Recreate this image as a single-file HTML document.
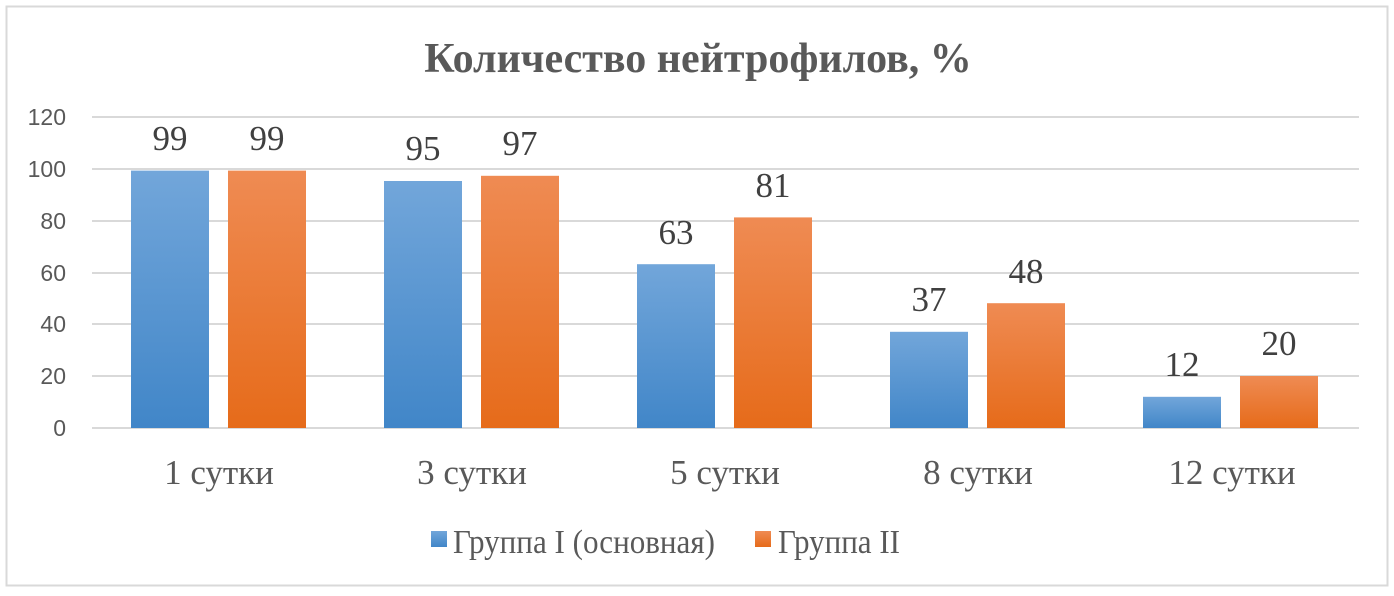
<!DOCTYPE html>
<html><head><meta charset="utf-8"><style>
body{margin:0;background:#fff;}
svg{display:block;}
</style></head><body>
<svg width="1394" height="596" xmlns="http://www.w3.org/2000/svg">
<defs>
<linearGradient id="b" x1="0" y1="0" x2="0" y2="1"><stop offset="0" stop-color="#72a6da"/><stop offset="1" stop-color="#4186c8"/></linearGradient>
<linearGradient id="o" x1="0" y1="0" x2="0" y2="1"><stop offset="0" stop-color="#ef8b53"/><stop offset="1" stop-color="#e66b1a"/></linearGradient>
</defs>
<rect x="6.5" y="6.5" width="1381" height="579" fill="#fff" stroke="#d9d9d9" stroke-width="2"/>
<text x="698" y="72" text-anchor="middle" font-family="Liberation Serif, serif" font-weight="bold" font-size="42" fill="#595959">Количество нейтрофилов, %</text>
<g stroke="#d9d9d9" stroke-width="2">
<line x1="92" x2="1359" y1="117" y2="117"/><line x1="92" x2="1359" y1="169" y2="169"/><line x1="92" x2="1359" y1="221" y2="221"/><line x1="92" x2="1359" y1="273" y2="273"/><line x1="92" x2="1359" y1="324" y2="324"/><line x1="92" x2="1359" y1="376" y2="376"/><line x1="92" x2="1359" y1="428" y2="428"/>
</g>
<g font-family="Liberation Sans, sans-serif" font-size="23" fill="#595959" text-anchor="end">
<text x="66" y="125">120</text><text x="66" y="177">100</text><text x="66" y="229">80</text><text x="66" y="281">60</text><text x="66" y="332">40</text><text x="66" y="384">20</text><text x="66" y="436">0</text>
</g>
<g font-family="Liberation Serif, serif" font-size="35" fill="#404040" text-anchor="middle">
<rect x="131" y="170.6" width="78" height="257.4" fill="url(#b)"/><rect x="228" y="170.6" width="78" height="257.4" fill="url(#o)"/>
<text x="170" y="150">99</text><text x="267" y="150">99</text>
<rect x="384" y="181" width="78" height="247" fill="url(#b)"/><rect x="481" y="175.8" width="78" height="252.2" fill="url(#o)"/>
<text x="423" y="160">95</text><text x="520" y="155">97</text>
<rect x="637" y="264.2" width="78" height="163.8" fill="url(#b)"/><rect x="734" y="217.4" width="78" height="210.6" fill="url(#o)"/>
<text x="676" y="244">63</text><text x="773" y="197">81</text>
<rect x="890" y="331.8" width="78" height="96.2" fill="url(#b)"/><rect x="987" y="303.2" width="78" height="124.8" fill="url(#o)"/>
<text x="929" y="311">37</text><text x="1026" y="283">48</text>
<rect x="1143" y="396.8" width="78" height="31.2" fill="url(#b)"/><rect x="1240" y="376" width="78" height="52" fill="url(#o)"/>
<text x="1182" y="376">12</text><text x="1279" y="355">20</text>
<g fill="#595959">
<text x="219" y="484">1 сутки</text><text x="472" y="484">3 сутки</text><text x="725" y="484">5 сутки</text><text x="978" y="484">8 сутки</text><text x="1232" y="484">12 сутки</text>
</g>
</g>
<rect x="431" y="531" width="16" height="16" fill="url(#b)"/>
<rect x="755" y="531" width="16" height="16" fill="url(#o)"/>
<g font-family="Liberation Serif, serif" font-size="34" fill="#595959">
<text x="453" y="553" textLength="262" lengthAdjust="spacingAndGlyphs">Группа I (основная)</text><text x="778" y="553" textLength="122" lengthAdjust="spacingAndGlyphs">Группа II</text>
</g>
</svg>
</body></html>
